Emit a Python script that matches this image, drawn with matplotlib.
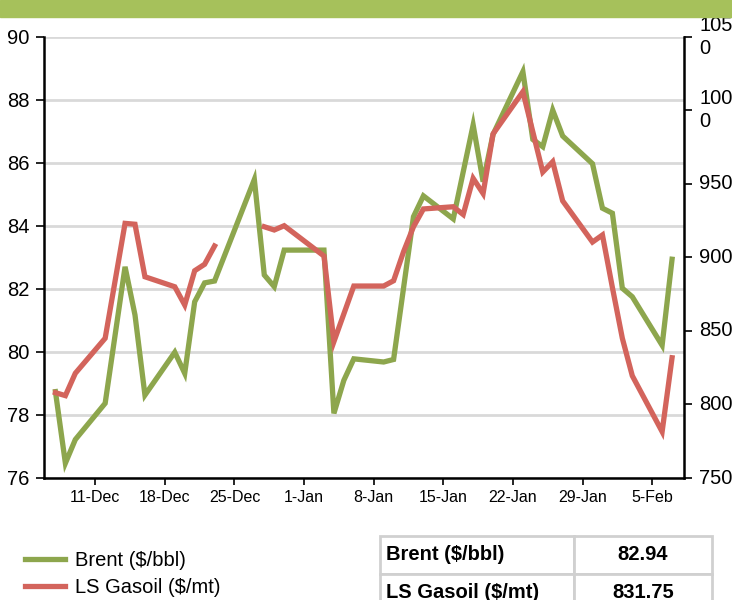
import matplotlib
matplotlib.use('Agg')
import matplotlib.pyplot as plt
import matplotlib.dates as mdates
from matplotlib.patches import Rectangle
from datetime import datetime, timedelta
import numpy as np

plt.rcParams['font.family'] = ['Liberation Sans', 'DejaVu Sans']

# Brent, $/bbl (left axis)
brent_dates = ['2022-12-07', '2022-12-08', '2022-12-09', '2022-12-12', '2022-12-14', '2022-12-15',
               '2022-12-16', '2022-12-19', '2022-12-20', '2022-12-21', '2022-12-22', '2022-12-23',
               '2022-12-27', '2022-12-28', '2022-12-29', '2022-12-30', '2023-01-03', '2023-01-04',
               '2023-01-05', '2023-01-06', '2023-01-09', '2023-01-10', '2023-01-12', '2023-01-13',
               '2023-01-16', '2023-01-18', '2023-01-19', '2023-01-20', '2023-01-23', '2023-01-24',
               '2023-01-25', '2023-01-26', '2023-01-27', '2023-01-30', '2023-01-31', '2023-02-01',
               '2023-02-02', '2023-02-03', '2023-02-06', '2023-02-07']
brent = [78.74, 76.47, 77.22, 78.37, 82.70, 81.17,
         78.63, 79.99, 79.32, 81.59, 82.19, 82.25,
         85.47, 82.44, 82.07, 83.23, 83.23, 78.05,
         79.10, 79.78, 79.68, 79.76, 84.29, 84.95,
         84.22, 87.20, 85.40, 86.90, 88.89, 86.74,
         86.51, 87.67, 86.85, 85.97, 84.56, 84.40,
         82.02, 81.75, 80.21, 82.94]

# LS Gasoil, $/mt (right axis), no price on 27-Dec
gasoil_dates = ['2022-12-07', '2022-12-08', '2022-12-09', '2022-12-12', '2022-12-14', '2022-12-15',
                '2022-12-16', '2022-12-19', '2022-12-20', '2022-12-21', '2022-12-22', '2022-12-23',
                '2022-12-27', '2022-12-28', '2022-12-29', '2022-12-30', '2023-01-03', '2023-01-04',
                '2023-01-06', '2023-01-09', '2023-01-10', '2023-01-11', '2023-01-12', '2023-01-13',
                '2023-01-16', '2023-01-17', '2023-01-18', '2023-01-19', '2023-01-20', '2023-01-23',
                '2023-01-25', '2023-01-26', '2023-01-27', '2023-01-30', '2023-01-31', '2023-02-01',
                '2023-02-02', '2023-02-03', '2023-02-06', '2023-02-07']
gasoil = [808.0, 806.0, 821.2, 845.0, 923.1, 922.5,
          886.8, 880.0, 867.6, 890.9, 895.3, 907.7,
          np.nan, 920.8, 918.6, 921.5, 900.9, 842.7,
          880.5, 880.5, 884.1, 903.8, 920.8, 932.9,
          934.4, 929.1, 953.7, 943.4, 983.9, 1012.6,
          958.0, 965.0, 938.4, 910.4, 915.2, 879.5,
          845.0, 819.5, 781.5, 831.75]

left_ticks = [76, 78, 80, 82, 84, 86, 88, 90]
right_ticks = [750, 800, 850, 900, 950, 1000, 1050]
right_labels = ['750', '800', '850', '900', '950', '100\n0', '105\n0']

labels = ['Brent ($/bbl)', 'LS Gasoil ($/mt)']
latest = ['82.94', '831.75']

green = '#8DA64D'
red = '#D3645C'

bd = [datetime.strptime(d, '%Y-%m-%d') for d in brent_dates]
gd = [datetime.strptime(d, '%Y-%m-%d') for d in gasoil_dates]

fig = plt.figure(figsize=(7.32, 6), dpi=100)
fig.patches.append(Rectangle((0, 1 - 17 / 600), 1, 17 / 600, transform=fig.transFigure,
                             color='#A6C15B', zorder=0))

ax = fig.add_axes([43.5 / 732, 1 - 478 / 600, (684 - 43.5) / 732, (478 - 36.7) / 600])
ax2 = ax.twinx()

l1, = ax.plot(bd, brent, color=green, lw=3.8, solid_joinstyle='miter', label=labels[0])
l2, = ax2.plot(gd, gasoil, color=red, lw=3.8, solid_joinstyle='miter', label=labels[1])

ax.set_ylim(76, 90)
ax.set_yticks(left_ticks)
ax2.set_ylim(750, 1050)
ax2.set_yticks(right_ticks)
ax2.set_yticklabels(right_labels, linespacing=1.25)
for t in ax2.get_yticklabels():
    t.set_verticalalignment('center')

x0 = datetime(2022, 12, 11)
ax.set_xlim(x0 - timedelta(days=5.2), x0 + timedelta(days=59.2))
ax.xaxis.set_major_locator(mdates.WeekdayLocator(byweekday=mdates.SU))
ax.xaxis.set_major_formatter(mdates.DateFormatter('%-d-%b'))

ax.grid(axis='y', color='#D9D9D9', lw=2)
ax.set_axisbelow(True)

for s in ['top', 'right']:
    ax.spines[s].set_visible(False)
for s in ['top', 'left', 'bottom']:
    ax2.spines[s].set_visible(False)
for s in ['left', 'bottom']:
    ax.spines[s].set_linewidth(1.8)
ax2.spines['right'].set_linewidth(1.8)

ax.tick_params(axis='y', labelsize=14.5, length=6, width=1.2, pad=4)
ax.tick_params(axis='x', labelsize=11.5, length=5, width=1.2, pad=4)
ax2.tick_params(axis='y', labelsize=14.5, length=6, width=1.2, pad=5)

fig.legend(handles=[l1, l2], labels=labels, loc='upper left',
           bbox_to_anchor=(25 / 732, 1 - 551 / 600), frameon=False, fontsize=14.5,
           handlelength=2.0, handletextpad=0.5, labelspacing=0.38,
           borderpad=0, borderaxespad=0)

tax = fig.add_axes([380 / 732, -12 / 600, 332 / 732, 76 / 600])
tax.axis('off')
tbl = tax.table(cellText=[[a, b] for a, b in zip(labels, latest)],
                colWidths=[0.584, 0.416], bbox=[0, 0, 1, 1], cellLoc='center')
tbl.auto_set_font_size(False)
tbl.set_fontsize(14.5)
for (r, c), cell in tbl.get_celld().items():
    cell.set_edgecolor('#D0D0D0')
    cell.set_linewidth(2)
    cell.get_text().set_fontweight('bold')
    if c == 0:
        cell.get_text().set_horizontalalignment('left')
        cell.PAD = 0.03

fig.savefig('out.png', dpi=100)
